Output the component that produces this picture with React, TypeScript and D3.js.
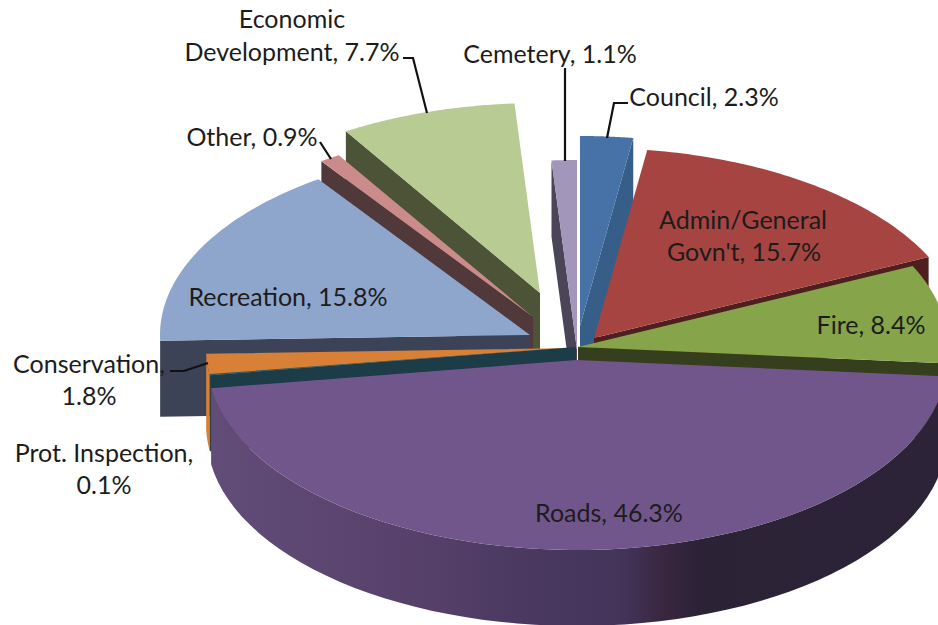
import React from "react";
import * as d3 from "d3";

const W = 938, H = 625;
const names = ["Council", "Admin", "Fire", "Roads", "Prot", "Conservation", "Recreation", "Other", "Econ", "Cemetery"];
const values = [2.3, 15.7, 8.4, 46.3, 0.1, 1.8, 15.8, 0.9, 7.7, 1.1];
const topColors = ["#4672a8", "#a64442", "#86a44a", "#71568c", "#1f5d6e", "#d88038", "#8fa6cc", "#cc8b8b", "#b8cb92", "#a396bb"];
const wallColors = ["#375d89", "#4f1e1e", "#363f1d", "#4a3760", "#1c3c47", "#d88038", "#3c4356", "#51383a", "#4c5337", "#4a4557"];
// exploded slice origin on screen
const originX = [580, 594, 578, 577, 576, 576, 530, 533, 540, 577];
const originY = [326, 338, 347, 360, 347, 348, 335, 317, 293, 350];
const drawOrder = [9, 0, 1, 2, 8, 7, 6, 5, 4, 3];

const labelRows: [string, number, number][] = [
  ["Economic", 292, 19],
  ["Development, 7.7%", 292, 52],
  ["Cemetery, 1.1%", 550, 54],
  ["Council, 2.3%", 704, 97],
  ["Admin/General", 743, 220],
  ["Govn't, 15.7%", 744, 252],
  ["Fire, 8.4%", 871, 325],
  ["Recreation, 15.8%", 288, 297],
  ["Other, 0.9%", 252, 137],
  ["Conservation,", 89, 364],
  ["1.8%", 89, 396],
  ["Prot. Inspection,", 104, 453],
  ["0.1%", 104, 485],
  ["Roads, 46.3%", 609, 513],
];
const leaders: [number, number][][] = [
  [[403, 58], [413, 58], [427, 113]],
  [[565, 68], [565, 161]],
  [[628, 103], [614, 103], [607, 138]],
  [[320, 142], [331, 159]],
  [[170, 371], [184, 371], [208, 363]],
];

const gradientStops: [number, string][] = [
  [0, "#624d78"],
  [0.26, "#58426c"],
  [0.44, "#4a3860"],
  [0.563, "#44345a"],
  [0.625, "#39263f"],
  [0.673, "#2b2236"],
  [1, "#2c2338"],
];

const DEPTH = 76;
const sx = d3.scaleLinear().domain([-1, 1]).range([-370, 370]);
const sy = d3.scaleLinear().domain([-1, 1]).range([-190, 190]);
const arcs = d3.pie<number>().sort(null).startAngle(0).endAngle(2 * Math.PI)(values);
const line = d3.line();

const rim = (i: number, a: number, dz = 0): [number, number] => [
  originX[i] + sx(Math.sin(a)),
  originY[i] - sy(Math.cos(a)) + dz,
];
const sample = (a0: number, a1: number) => d3.range(0, 61).map((k) => a0 + ((a1 - a0) * k) / 60);

function topPath(i: number) {
  const { startAngle: a0, endAngle: a1 } = arcs[i];
  const pts = sample(a0, a1).map((a) => rim(i, a));
  return line([[originX[i], originY[i]], ...pts])! + "Z";
}
function facePath(i: number, a: number) {
  const o: [number, number] = [originX[i], originY[i]];
  return line([o, rim(i, a), rim(i, a, DEPTH), [o[0], o[1] + DEPTH]])! + "Z";
}
function outerPath(i: number) {
  const a0 = Math.max(arcs[i].startAngle, Math.PI / 2);
  const a1 = Math.min(arcs[i].endAngle, (3 * Math.PI) / 2);
  if (a1 <= a0) return null;
  const up = sample(a0, a1).map((a) => rim(i, a));
  const down = sample(a1, a0).map((a) => rim(i, a, DEPTH));
  return line([...up, ...down])! + "Z";
}

export default function App() {
  const roads = names.indexOf("Roads");
  return (
    <svg width={W} height={H} viewBox={`0 0 ${W} ${H}`} style={{ position: "absolute", left: 0, top: 0, background: "#fff" }}>
      <defs>
        <linearGradient id="roadsWall" gradientUnits="userSpaceOnUse" x1={210} x2={938} y1={0} y2={0}>
          {gradientStops.map(([o, c]) => (
            <stop key={o} offset={o} stopColor={c} />
          ))}
        </linearGradient>
      </defs>
      {drawOrder.map((i) => {
        const { startAngle: a0, endAngle: a1 } = arcs[i];
        const outer = outerPath(i);
        const wall = i === roads ? "url(#roadsWall)" : wallColors[i];
        return (
          <g key={names[i]}>
            {Math.sin(a0) < 0 && i !== roads && <path d={facePath(i, a0)} fill={wallColors[i]} />}
            {Math.sin(a1) > 0 && i !== roads && <path d={facePath(i, a1)} fill={wallColors[i]} />}
            {outer && <path d={outer} fill={wall} />}
            <path d={topPath(i)} fill={topColors[i]} />
          </g>
        );
      })}
      {leaders.map((pts, i) => (
        <path key={i} d={line(pts)!} fill="none" stroke="#111" strokeWidth={2.2} />
      ))}
      {labelRows.map(([t, x, y]) => (
        <text key={t} x={x} y={y} dy="0.35em" textAnchor="middle" fontFamily="Lato, Carlito, sans-serif" fontSize={25} fill="#1c1c1c">
          {t}
        </text>
      ))}
    </svg>
  );
}
